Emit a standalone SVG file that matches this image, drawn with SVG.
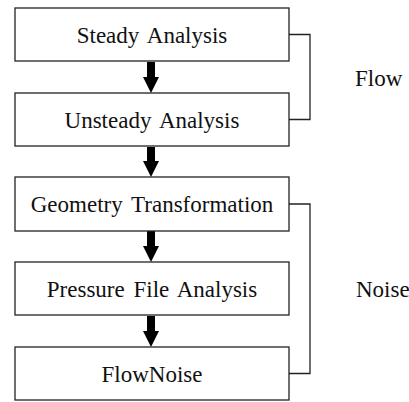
<svg xmlns="http://www.w3.org/2000/svg" width="409" height="402" viewBox="0 0 409 402">
<style>
.box{fill:#fff;stroke:#222;stroke-width:1.3}
.t{font-family:'Liberation Serif','DejaVu Serif',serif;font-size:23px;fill:#111;word-spacing:3px}
.br{fill:none;stroke:#222;stroke-width:1.3}
.ar{fill:#000}
</style>
<rect width="409" height="402" fill="#fff"/>
<g id="connectors">
<path class="ar" d="M147,62 H155 V77 H159 L151,93 L143,77 H147 Z"/>
<path class="ar" d="M147,147 H155 V161 H159 L151,177 L143,161 H147 Z"/>
<path class="ar" d="M147,231 H155 V246 H159 L151,262 L143,246 H147 Z"/>
<path class="ar" d="M147,316 H155 V331 H159 L151,347 L143,331 H147 Z"/>
<path class="br" d="M289,34.5 H310 V119.5 H289"/>
<path class="br" d="M289,204 H310 V373.5 H289"/>
</g>
<g id="steady"><rect class="box" x="15" y="8" width="274" height="53"/><text class="t" x="152" y="43" text-anchor="middle">Steady Analysis</text></g>
<g id="unsteady"><rect class="box" x="15" y="93" width="274" height="53"/><text class="t" x="152" y="128" text-anchor="middle">Unsteady Analysis</text></g>
<g id="geometry"><rect class="box" x="15" y="177" width="274" height="54"/><text class="t" x="152" y="212" text-anchor="middle">Geometry Transformation</text></g>
<g id="pressure"><rect class="box" x="15" y="262" width="274" height="53"/><text class="t" x="152" y="297" text-anchor="middle">Pressure File Analysis</text></g>
<g id="flownoise"><rect class="box" x="15" y="347" width="274" height="53"/><text class="t" x="152" y="382" text-anchor="middle">FlowNoise</text></g>
<g id="flow-label"><text class="t" x="355" y="86">Flow</text></g>
<g id="noise-label"><text class="t" x="356" y="297">Noise</text></g>
</svg>
